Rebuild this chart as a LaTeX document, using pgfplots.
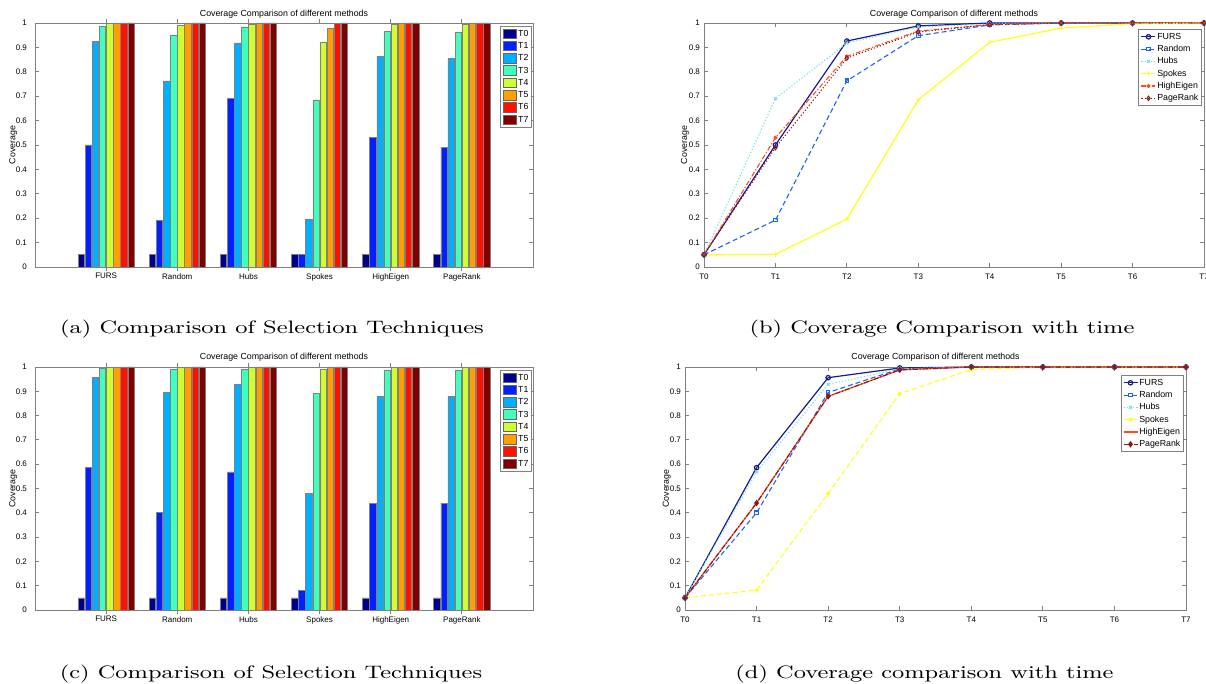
\documentclass[border=0pt]{standalone}
\usepackage{fontspec}
\newfontfamily\lsans{Liberation Sans}
\newfontfamily\capfont{Latin Modern Roman}[FakeStretch=1.32]
\usepackage{pgfplots}
\usepackage{pgfplotstable}
\pgfplotsset{compat=1.18}

\definecolor{jA}{rgb}{0,0,0.5625}
\definecolor{jB}{rgb}{0,0.125,1}
\definecolor{jC}{rgb}{0,0.6875,1}
\definecolor{jD}{rgb}{0.25,1,0.75}
\definecolor{jE}{rgb}{0.8125,1,0.1875}
\definecolor{jF}{rgb}{1,0.625,0}
\definecolor{jG}{rgb}{1,0.0625,0}
\definecolor{jH}{rgb}{0.5,0,0}

\definecolor{cFURS}{rgb}{0.1,0.1,0.55}
\definecolor{cRandom}{rgb}{0.1,0.4,0.95}
\definecolor{cHubs}{rgb}{0.45,0.88,0.9}
\definecolor{cSpokes}{rgb}{1,1,0.1}
\definecolor{cHigh}{rgb}{1,0.3,0.1}
\definecolor{cPage}{rgb}{0.55,0.1,0.1}

\newcommand\cf{\lsans\fontsize{4.4}{5}\selectfont}
\newcommand\tf{\lsans\fontsize{4.0}{4.5}\selectfont}

% bar data (rows = methods)
\pgfplotstableread{
g T0 T1 T2 T3 T4 T5 T6 T7
1 0.05 0.500 0.926 0.988 1.000 1 1 1
2 0.05 0.192 0.763 0.948 0.992 1 1 1
3 0.05 0.690 0.918 0.984 0.996 1 1 1
4 0.05 0.052 0.196 0.685 0.921 0.979 0.997 1
5 0.05 0.530 0.863 0.967 0.993 1 1 1
6 0.05 0.489 0.856 0.963 0.993 1 1 1
}\dataA
\pgfplotstableread{
t FURS Random Hubs Spokes HighEigen PageRank
0 0.05 0.05 0.05 0.05 0.05 0.05
1 0.500 0.192 0.690 0.052 0.530 0.489
2 0.926 0.763 0.918 0.196 0.863 0.856
3 0.988 0.948 0.984 0.685 0.967 0.963
4 1.000 0.992 0.996 0.921 0.993 0.993
5 1 1 1 0.979 1 1
6 1 1 1 0.997 1 1
7 1 1 1 1 1 1
}\dataB
\pgfplotstableread{
g T0 T1 T2 T3 T4 T5 T6 T7
1 0.05 0.586 0.956 0.996 1 1 1 1
2 0.05 0.400 0.895 0.992 1 1 1 1
3 0.05 0.568 0.929 0.992 1 1 1 1
4 0.05 0.082 0.479 0.890 0.989 1 1 1
5 0.05 0.440 0.879 0.988 1 1 1 1
6 0.05 0.440 0.879 0.988 1 1 1 1
}\dataC
\pgfplotstableread{
t FURS Random Hubs Spokes HighEigen PageRank
0 0.05 0.05 0.05 0.05 0.05 0.05
1 0.586 0.400 0.568 0.082 0.440 0.440
2 0.956 0.895 0.929 0.479 0.879 0.879
3 0.996 0.992 0.992 0.890 0.988 0.988
4 1 1 1 0.989 1 1
5 1 1 1 1 1 1
6 1 1 1 1 1 1
7 1 1 1 1 1 1
}\dataD

\pgfplotsset{
  mstyle/.style={
    scale only axis,
    axis line style={black!50, line width=0.4pt},
    every tick/.style={black!50, line width=0.4pt},
    major tick length=2pt,
    tick align=inside,
    tick pos=both,
    ymin=0, ymax=1,
    ytick={0,0.1,0.2,0.3,0.4,0.5,0.6,0.7,0.8,0.9,1},
    yticklabels={0,0.1,0.2,0.3,0.4,0.5,0.6,0.7,0.8,0.9,1},
    xmin=0, xmax=7,
    /pgf/number format/assume math mode=true,
    tick label style={font=\tf},
    every axis title/.style={font=\cf, at={(0.5,1)}, anchor=base, yshift=3.2pt},
    title={Coverage Comparison of different methods},
    ylabel={Coverage},
    clip=false,
    legend cell align=left,
    legend style={draw=black!50, line width=0.4pt, fill=white,
      inner xsep=1pt, inner ysep=1pt, row sep=0.75pt,
      nodes={inner sep=0.6pt, font=\cf, text height=3.3pt, text depth=0.9pt},
      /tikz/every even column/.append style={column sep=0.3pt}},
  },
  barstyle/.style={
    mstyle, ybar, bar width=0.09,
    xtick={1,2,3,4,5,6},
    xticklabels={FURS,Random,Hubs,Spokes,HighEigen,PageRank},
    xticklabel style={yshift=2.4pt},
    yticklabel style={xshift=-0.5pt},
    legend image code/.code={\draw[##1, draw=black!60, line width=0.4pt] (0pt,-2.4pt) rectangle (6.7pt,2.4pt);},
    legend style={at={(1,1)}, anchor=north east, xshift=-0.5pt, yshift=-1.5pt},
  },
  linestyle/.style={
    mstyle,
    xtick={0,1,2,3,4,5,6,7},
    xticklabels={T0,T1,T2,T3,T4,T5,T6,T7},
    xticklabel style={yshift=0pt},
    yticklabel style={xshift=1.5pt},
    legend image code/.code={\draw[mark repeat=2, mark phase=2, ##1] plot coordinates {(0pt,0pt) (3.5pt,0pt) (7pt,0pt)};},
    legend style={at={(1,1)}, anchor=north east, xshift=-1pt},
  },
  bs/.style={draw=black!50, line width=0.3pt},
}

\begin{document}
\begin{tikzpicture}
\path[use as bounding box] (0,0) rectangle (603pt,342pt);
\clip (0,0) rectangle (603pt,342pt);

% (a)
\begin{axis}[barstyle, at={(17.5pt,208.5pt)}, anchor=south west, width=249pt, height=122pt,
  every axis y label/.style={font=\cf, at={(rel axis cs:0,0.5)}, xshift=-10.9pt, rotate=90, anchor=center}]
\addplot[bs, fill=jA, bar shift=-0.35] table[x=g,y=T0]{\dataA};
\addplot[bs, fill=jB, bar shift=-0.25] table[x=g,y=T1]{\dataA};
\addplot[bs, fill=jC, bar shift=-0.15] table[x=g,y=T2]{\dataA};
\addplot[bs, fill=jD, bar shift=-0.05] table[x=g,y=T3]{\dataA};
\addplot[bs, fill=jE, bar shift=0.05] table[x=g,y=T4]{\dataA};
\addplot[bs, fill=jF, bar shift=0.15] table[x=g,y=T5]{\dataA};
\addplot[bs, fill=jG, bar shift=0.25] table[x=g,y=T6]{\dataA};
\addplot[bs, fill=jH, bar shift=0.35] table[x=g,y=T7]{\dataA};
\legend{T0,T1,T2,T3,T4,T5,T6,T7}
\end{axis}

% (b)
\begin{axis}[linestyle, at={(352pt,208.5pt)}, anchor=south west, width=250pt, height=122pt,
  legend style={yshift=-3pt},
  every axis y label/.style={font=\cf, at={(rel axis cs:0,0.5)}, xshift=-9.5pt, rotate=90, anchor=center}]
\addplot[cFURS, line width=0.6pt, mark=o, mark size=1.1pt, mark options={solid}] table[x=t,y=FURS]{\dataB};
\addplot[cRandom, line width=0.55pt, dash pattern=on 2.5pt off 1.5pt, mark=square, mark size=0.9pt, mark options={solid}] table[x=t,y=Random]{\dataB};
\addplot[cHubs, line width=0.55pt, dash pattern=on 0.6pt off 1pt, mark=x, mark size=1pt, mark options={solid}] table[x=t,y=Hubs]{\dataB};
\addplot[cSpokes, line width=0.6pt, mark=+, mark size=1.1pt] table[x=t,y=Spokes]{\dataB};
\addplot[cHigh, line width=0.55pt, dash pattern=on 2.5pt off 1pt on 0.6pt off 1pt, mark=asterisk, mark size=1pt, mark options={solid}] table[x=t,y=HighEigen]{\dataB};
\addplot[cPage, line width=0.5pt, dash pattern=on 0.6pt off 1pt, mark=diamond, mark size=1.1pt, mark options={solid}] table[x=t,y=PageRank]{\dataB};
\legend{FURS,Random,Hubs,Spokes,HighEigen,PageRank}
\end{axis}

% (c)
\begin{axis}[barstyle, at={(17.5pt,37pt)}, anchor=south west, width=249pt, height=121.5pt,
  title style={yshift=0.5pt},
  every axis y label/.style={font=\cf, at={(rel axis cs:0,0.5)}, xshift=-10.9pt, rotate=90, anchor=center}]
\addplot[bs, fill=jA, bar shift=-0.35] table[x=g,y=T0]{\dataC};
\addplot[bs, fill=jB, bar shift=-0.25] table[x=g,y=T1]{\dataC};
\addplot[bs, fill=jC, bar shift=-0.15] table[x=g,y=T2]{\dataC};
\addplot[bs, fill=jD, bar shift=-0.05] table[x=g,y=T3]{\dataC};
\addplot[bs, fill=jE, bar shift=0.05] table[x=g,y=T4]{\dataC};
\addplot[bs, fill=jF, bar shift=0.15] table[x=g,y=T5]{\dataC};
\addplot[bs, fill=jG, bar shift=0.25] table[x=g,y=T6]{\dataC};
\addplot[bs, fill=jH, bar shift=0.35] table[x=g,y=T7]{\dataC};
\legend{T0,T1,T2,T3,T4,T5,T6,T7}
\end{axis}

% (d)
\begin{axis}[linestyle, at={(342.5pt,37pt)}, anchor=south west, width=250.5pt, height=121.5pt,
  title style={yshift=0.5pt},
  legend style={yshift=-4pt},
  every axis y label/.style={font=\cf, at={(rel axis cs:0,0.5)}, xshift=-9.2pt, rotate=90, anchor=center}]
\addplot[cFURS, line width=0.6pt, mark=o, mark size=1.1pt, mark options={solid}] table[x=t,y=FURS]{\dataD};
\addplot[cRandom, line width=0.55pt, dash pattern=on 2.5pt off 1.5pt, mark=square, mark size=0.9pt, mark options={solid}] table[x=t,y=Random]{\dataD};
\addplot[cHubs, line width=0.55pt, dash pattern=on 0.6pt off 1pt, mark=x, mark size=1pt, mark options={solid}] table[x=t,y=Hubs]{\dataD};
\addplot[cSpokes, line width=0.55pt, dash pattern=on 2.5pt off 1.5pt, mark=asterisk, mark size=1pt, mark options={solid}] table[x=t,y=Spokes]{\dataD};
\addplot[cHigh, line width=0.6pt] table[x=t,y=HighEigen]{\dataD};
\addplot[cPage, line width=0.55pt, dash pattern=on 2.5pt off 1pt on 0.6pt off 1pt, mark=diamond*, mark size=1.2pt, mark options={solid}] table[x=t,y=PageRank]{\dataD};
\legend{FURS,Random,Hubs,Spokes,HighEigen,PageRank}
\end{axis}

% captions
\node[anchor=base, font=\capfont\fontsize{9}{10}\selectfont, inner sep=0pt] at (136pt,175.35pt) {(a) Comparison of Selection Techniques};
\node[anchor=base, font=\capfont\fontsize{9}{10}\selectfont, inner sep=0pt] at (471pt,175.35pt) {(b) Coverage Comparison with time};
\node[anchor=base, font=\capfont\fontsize{9}{10}\selectfont, inner sep=0pt] at (135.5pt,2.85pt) {(c) Comparison of Selection Techniques};
\node[anchor=base, font=\capfont\fontsize{9}{10}\selectfont, inner sep=0pt] at (462.25pt,2.85pt) {(d) Coverage comparison with time};
\end{tikzpicture}
\end{document}
